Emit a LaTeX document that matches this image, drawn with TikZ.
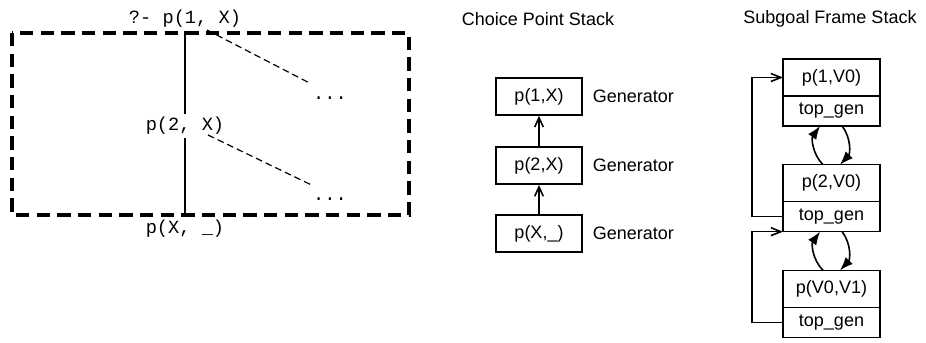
\documentclass[tikz,border=0pt]{standalone}
\usepackage{fontspec}
\setmainfont{Liberation Sans}
\setmonofont{Liberation Mono}
\usetikzlibrary{positioning,arrows.meta}

\tikzset{
  goal/.style={font=\ttfamily\fontsize{14}{16}\selectfont,inner sep=2pt,text height=10pt,text depth=3pt},
  lbl/.style={font=\fontsize{13.5}{16}\selectfont},
  cpbox/.style={draw,line width=1.2pt,lbl,minimum width=64.5pt,minimum height=27.75pt},
  sfhead/.style={draw,line width=1.2pt,lbl,outer sep=0pt,minimum width=72.75pt,minimum height=27.75pt},
  sftail/.style={sfhead,minimum height=22.5pt},
  link/.style={line width=1.2pt}
}

\begin{document}
\begin{tikzpicture}[x=0.75pt,y=-0.75pt]
\useasboundingbox (0,0) rectangle (926,343);

%Rectangle (frame)
\draw [line width=3pt,dash pattern=on 10pt off 5.5pt] (12,33) rectangle (409,215) ;

% Text Node
\node [goal] (q1) at (185,19) {?- p(1, X)};
% Text Node
\node [goal] (q2) at (185,126) {p(2, X)};
% Text Node
\node [goal] (q3) at (185,229) {p(X, \_)};
% Text Node
\node [goal] (d1) at (330,95) {...};
% Text Node
\node [goal] (d2) at (330,196) {...};
\coordinate (b1) at (207,30);
\coordinate (b2) at (208,135);

%Straight Lines
\draw [line width=1.4pt] (q1.south) -- (q2.north) ;
\draw [line width=1.4pt] (q2.south) -- (q3.north) ;
%Straight Lines
\draw [line width=0.9pt,dash pattern=on 5pt off 3pt] (b1) -- (d1.north west) ;
\draw [line width=0.9pt,dash pattern=on 5pt off 3pt] (b2) -- (d2.north west) ;

% Text Node
\node [lbl] (cptitle) at (538,19) {Choice Point Stack};
\node [cpbox] (c1) at (539,96.5) {p(1,X)};
\node [cpbox,below=23pt of c1] (c2) {p(2,X)};
\node [cpbox,below=21.75pt of c2] (c3) {p(X,\_)};
\node [lbl,right=4pt of c1] (g1) {Generator};
\node [lbl,right=4pt of c2] (g2) {Generator};
\node [lbl,right=4pt of c3] (g3) {Generator};

%Straight Lines
\draw [link,-{Straight Barb[length=7pt,width=6.5pt]}] (c2) -- (c1) ;
\draw [link,-{Straight Barb[length=7pt,width=6.5pt]}] (c3) -- (c2) ;

% Text Node
\node [lbl] (sftitle) at (830,19) {Subgoal Frame Stack};
\node [sfhead] (s1) at (831.5,77.5) {p(1,V0)};
\node [sftail,below=0pt of s1] (s1t) {top\_gen};
\node [sfhead,below=29pt of s1t] (s2) {p(2,V0)};
\node [sftail,below=0pt of s2] (s2t) {top\_gen};
\node [sfhead,below=29pt of s2t] (s3) {p(V0,V1)};
\node [sftail,below=0pt of s3] (s3t) {top\_gen};

%Curve Lines
\draw [link,-{Latex[length=10pt,width=7.5pt]}] ([xshift=-6.4pt]s2.north) to[bend left=40] ([xshift=-8.6pt]s1t.south) ;
\draw [link,-{Latex[length=10pt,width=7.5pt]}] ([xshift=8pt]s1t.south) to[bend left=40] ([xshift=6.4pt]s2.north) ;
\draw [link,-{Latex[length=10pt,width=7.5pt]}] ([xshift=-6.4pt]s3.north) to[bend left=40] ([xshift=-8.6pt]s2t.south) ;
\draw [link,-{Latex[length=10pt,width=7.5pt]}] ([xshift=8pt]s2t.south) to[bend left=40] ([xshift=6.4pt]s3.north) ;

%Straight Lines
\draw [link,-{Straight Barb[length=7.5pt,width=6pt]}] (s2t.west) -- ++(-31,0) |- (s1.west) ;
\draw [link,-{Straight Barb[length=7.5pt,width=6pt]}] (s3t.west) -- ++(-31,0) |- (s2t.south west) ;
\end{tikzpicture}
\end{document}
